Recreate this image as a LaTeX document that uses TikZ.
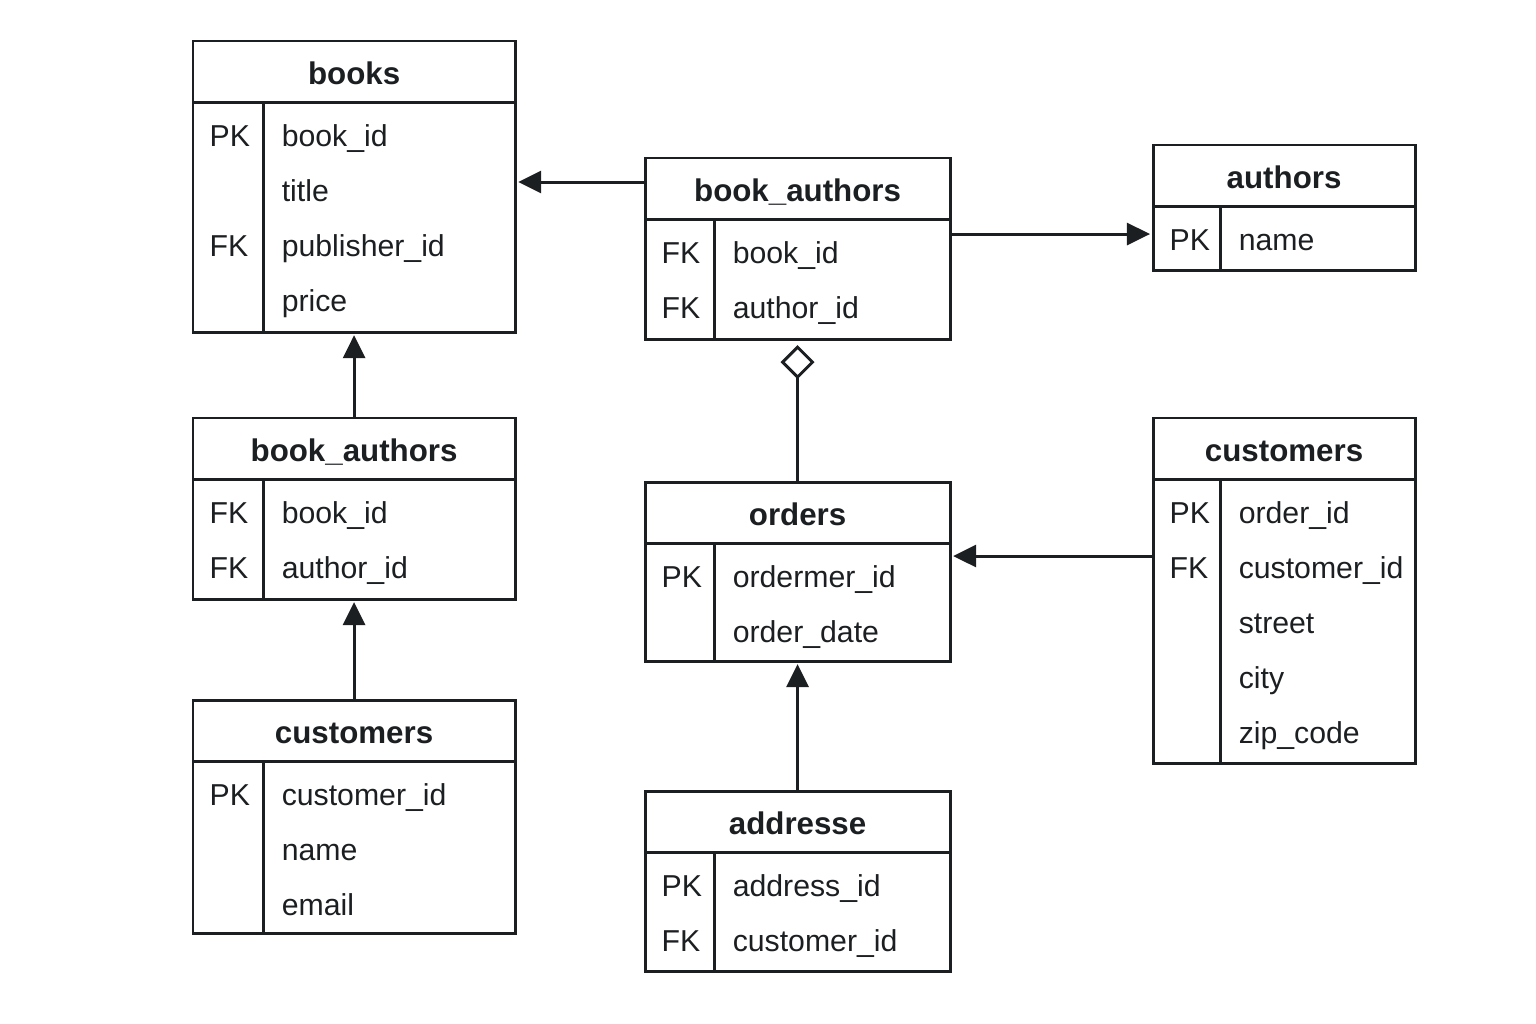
\documentclass[tikz,border=0pt]{standalone}
\usepackage{fontspec}
\setmainfont{Liberation Sans}
\usetikzlibrary{arrows.meta,positioning}
\definecolor{erink}{HTML}{1C1F22}
\newcommand{\titlefont}{\fontsize{8.9}{10}\selectfont\bfseries}
\newcommand{\rowfont}{\fontsize{8.6}{10}\selectfont}
% one table: name, north west corner, width, key column width,
% body height, title, key/field rows
\newcommand{\ertable}[7]{%
  \node[tabtitle, minimum width=#3] (#1) at (#2) {#6};
  \node[tabbody, minimum width=#3, minimum height=#5, below=0pt of #1] (#1-body) {};
  \draw[rule] ([xshift=#4]#1-body.north west) -- ([xshift=#4]#1-body.south west);
  \foreach \k/\f [count=\i from 0] in {#7} {
    \node[keycol] (#1-k\i) at ([xshift=0.16cm, yshift={-0.32cm-0.55cm*\i}]#1-body.north west) {\k};
    \node[fieldcol] (#1-f\i) at ([xshift={#4+0.18cm}, yshift={-0.32cm-0.55cm*\i}]#1-body.north west) {\f};
  }%
}

\begin{document}
\begin{tikzpicture}[
  x=0.01cm,
  y=-0.01cm,
  every node/.style={erink},
  rule/.style={erink, line width=0.85pt},
  tabtitle/.style={draw=erink, line width=0.85pt, outer sep=0pt, inner sep=0pt,
                   minimum height=0.61cm, anchor=north west, font=\titlefont,
                   text height=0.716em, text depth=0pt},
  tabbody/.style={draw=erink, line width=0.85pt, outer sep=0pt, inner sep=0pt},
  keycol/.style={anchor=west, inner sep=0pt, font=\rowfont,
                 text height=0.716em, text depth=0pt},
  fieldcol/.style={keycol},
  fk/.style={erink, line width=0.85pt, shorten >=0.03cm,
             -{Triangle[length=0.23cm, width=0.22cm]}},
  agg/.style={erink, line width=0.85pt, shorten >=0.06cm,
              -{Diamond[open, length=0.34cm, width=0.34cm]}}
]
  \useasboundingbox (0,0) rectangle (1536,1024);

  % ---- left column ------------------------------------------------------
  \ertable{books}{193,41}{3.22cm}{0.70cm}{2.30cm}{books}
    {PK/book\_id, /title, FK/publisher\_id, /price}
  \ertable{bauthl}{193,418}{3.22cm}{0.70cm}{1.20cm}{book\_authors}
    {FK/book\_id, FK/author\_id}
  \ertable{custl}{193,700}{3.22cm}{0.70cm}{1.72cm}{customers}
    {PK/customer\_id, /name, /email}

  % ---- middle column ----------------------------------------------------
  \ertable{bauth}{645,158}{3.05cm}{0.69cm}{1.20cm}{book\_authors}
    {FK/book\_id, FK/author\_id}
  \ertable{orders}{645,482}{3.05cm}{0.69cm}{1.18cm}{orders}
    {PK/ordermer\_id, /order\_date}
  \ertable{addr}{645,791}{3.05cm}{0.69cm}{1.19cm}{addresse}
    {PK/address\_id, FK/customer\_id}

  % ---- right column -----------------------------------------------------
  \ertable{authors}{1153,145}{2.62cm}{0.67cm}{0.64cm}{authors}
    {PK/name}
  \ertable{custr}{1153,418}{2.62cm}{0.67cm}{2.84cm}{customers}
    {PK/order\_id, FK/customer\_id, /street, /city, /zip\_code}

  % ---- links ------------------------------------------------------------
  \coordinate (bauthout) at ([yshift=0.065cm]bauth.west);
  \draw[fk] (bauthout) -- (bauthout -| books-body.east);
  \coordinate (authin) at ([yshift=0.04cm]authors-body.west);
  \draw[fk] (authin -| bauth-body.east) -- (authin);
  \draw[fk] (bauthl.north) -- (books-body.south);
  \draw[fk] (custl.north) -- (bauthl-body.south);

  \draw[agg] (orders.north) -- (bauth-body.south);
  \coordinate (ordin) at ([yshift=-0.13cm]orders-body.north east);
  \draw[fk] (ordin -| custr-body.west) -- (ordin);
  \draw[fk] (addr.north) -- (orders-body.south);
\end{tikzpicture}
\end{document}
